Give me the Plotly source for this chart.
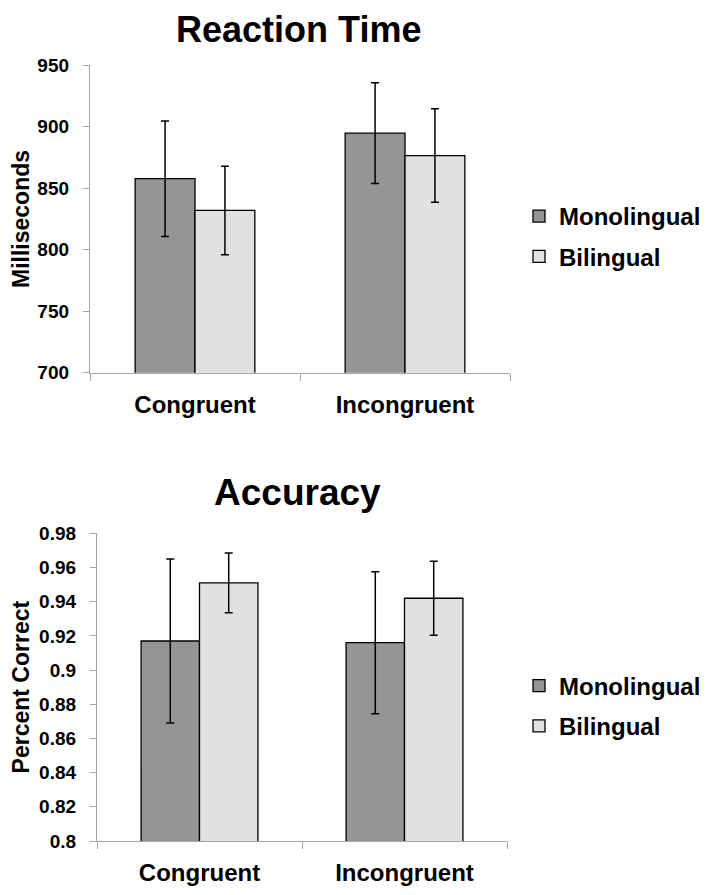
import plotly.graph_objects as go

categories = ["Congruent", "Incongruent"]
series_names = ["Monolingual", "Bilingual"]
colors = ["#959595", "#e1e1e1"]

# Reaction time (ms)
rt_mono = [857.8, 894.8]
rt_mono_err = [47, 41]
rt_bili = [832.0, 876.6]
rt_bili_err = [36, 38]

# Accuracy (proportion correct)
acc_mono = [0.917, 0.916]
acc_mono_err = [0.048, 0.0415]
acc_bili = [0.951, 0.942]
acc_bili_err = [0.0175, 0.0217]

rt_ticks = [700, 750, 800, 850, 900, 950]
acc_ticks = [0.80, 0.82, 0.84, 0.86, 0.88, 0.90, 0.92, 0.94, 0.96, 0.98]
acc_ticktext = ["0.8", "0.82", "0.84", "0.86", "0.88", "0.9", "0.92", "0.94", "0.96", "0.98"]

FONT = "Liberation Sans, Arial, sans-serif"
AXC = "#a6a6a6"

# page has an 8px body margin; figure sized so page is 714x895
W, H = 698, 879
OFF = 8


def px(x):
    return (x - OFF) / W


def py(y):
    return 1 - (y - OFF) / H


fig = go.Figure()


def add_bar(name, x, y, err, color, xa, ya, legend):
    fig.add_trace(go.Bar(
        name=name, x=x, y=y,
        error_y=dict(type="data", array=err, visible=True, color="black", thickness=1.5, width=4),
        marker=dict(color=color, line=dict(color="black", width=1.3)),
        xaxis=xa, yaxis=ya, legend=legend, legendgroup=legend + name,
    ))


add_bar(series_names[0], categories, rt_mono, rt_mono_err, colors[0], "x", "y", "legend")
add_bar(series_names[1], categories, rt_bili, rt_bili_err, colors[1], "x", "y", "legend")
add_bar(series_names[0], categories, acc_mono, acc_mono_err, colors[0], "x2", "y2", "legend2")
add_bar(series_names[1], categories, acc_bili, acc_bili_err, colors[1], "x2", "y2", "legend2")

xcommon = dict(
    type="category", showline=True, linecolor=AXC, linewidth=1.3,
    ticks="outside", tickson="boundaries", ticklen=7, tickcolor=AXC, tickwidth=1.3,
    tickfont=dict(family=FONT, size=24, color="black", weight="bold"),
    ticklabelstandoff=10, showgrid=False, zeroline=False, automargin=False,
)
ycommon = dict(
    showline=True, linecolor=AXC, linewidth=1.3,
    ticks="outside", ticklen=6, tickcolor=AXC, tickwidth=1.3,
    tickfont=dict(family=FONT, size=19, color="black", weight="bold"),
    ticklabelstandoff=10, showgrid=False, zeroline=False, automargin=False,
)

legcommon = dict(
    font=dict(family=FONT, size=24, color="black", weight="bold"),
    bgcolor="rgba(0,0,0,0)", tracegroupgap=6, xanchor="left", yanchor="middle",
    x=px(519),
)

fig.update_layout(
    width=W, height=H,
    margin=dict(l=0, r=0, t=0, b=0, autoexpand=False),
    paper_bgcolor="white", plot_bgcolor="white",
    barmode="group", bargap=0.43, bargroupgap=0,
    xaxis=dict(domain=[px(90), px(510)], anchor="y", **xcommon),
    yaxis=dict(domain=[py(372.7), py(65.3)], anchor="x", range=[700, 950],
               tickvals=rt_ticks,
               title=dict(text="Milliseconds", font=dict(family=FONT, size=23, color="black", weight="bold"), standoff=12),
               **ycommon),
    xaxis2=dict(domain=[px(97), px(507)], anchor="y2", **xcommon),
    yaxis2=dict(domain=[py(841), py(533.3)], anchor="x2", range=[0.8, 0.98],
                tickvals=acc_ticks, ticktext=acc_ticktext,
                title=dict(text="Percent Correct", font=dict(family=FONT, size=23, color="black", weight="bold"), standoff=10),
                **ycommon),
    legend=dict(y=py(236.5), **legcommon),
    legend2=dict(y=py(706), **legcommon),
    annotations=[
        dict(text="Reaction Time", x=px(298), y=1, xref="paper", yref="paper",
             showarrow=False, xanchor="center", yanchor="top", borderpad=0,
             font=dict(family=FONT, size=36, color="black", weight="bold")),
        dict(text="Accuracy", x=px(297), y=py(493), xref="paper", yref="paper",
             showarrow=False, xanchor="center", yanchor="middle",
             font=dict(family=FONT, size=37, color="black", weight="bold")),
    ],
)

fig.write_html("out.html")
